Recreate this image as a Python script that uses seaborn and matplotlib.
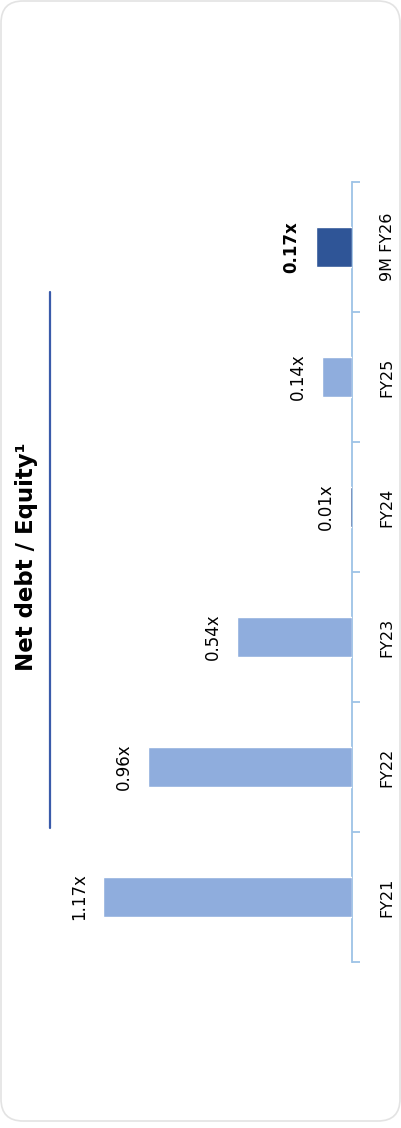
import seaborn as sns
import matplotlib.pyplot as plt
import pandas as pd
from matplotlib.lines import Line2D
from matplotlib.patches import FancyBboxPatch
from matplotlib.transforms import IdentityTransform

# chart data
periods = ["FY21", "FY22", "FY23", "FY24", "FY25", "9M FY26"]
ratios = [1.17, 0.96, 0.54, 0.01, 0.14, 0.17]
labels = ["1.17x", "0.96x", "0.54x", "0.01x", "0.14x", "0.17x"]

LIGHT = "#8FADDD"
DARK = "#2F5597"
AXIS = "#9DC3E6"

if __name__ == "__main__":
    df = pd.DataFrame({"Period": periods, "Ratio": ratios})
    bar_colors = [LIGHT] * (len(periods) - 1) + [DARK]
    bar_colors[3] = DARK  # the tiny FY24 sliver shows dark

    sns.set_style("white")
    plt.rcParams["font.family"] = ["DejaVu Sans"]

    W, H = 401, 1128
    fig = plt.figure(figsize=(W / 100, H / 100), dpi=100)

    # axes: value axis runs leftwards from x=352, categories stacked bottom->top
    left_px, right_px = 40, 352
    top_px, bot_px = 182, 962
    ax = fig.add_axes([left_px / W, (H - bot_px) / H,
                       (right_px - left_px) / W, (bot_px - top_px) / H])

    sns.barplot(data=df, x="Ratio", y="Period", hue="Period",
                palette=bar_colors, orient="h", width=0.31,
                legend=False, ax=ax, saturation=1, zorder=3)

    ax.set_xlim((right_px - left_px) / 212.8, 0)
    ax.set_ylim(-0.5, len(periods) - 0.5)

    for s in ["top", "left", "bottom"]:
        ax.spines[s].set_visible(False)
    ax.spines["right"].set_color(AXIS)
    ax.spines["right"].set_linewidth(1.3)

    ax.set_xticks([])
    ax.set_xlabel("")
    ax.set_ylabel("")
    ax.yaxis.tick_right()
    ax.set_yticks(range(len(periods)))
    ax.set_yticklabels(periods, rotation=90, va="center", fontsize=11.5,
                       color="black")
    ax.tick_params(axis="y", which="major", length=0, pad=20)
    ax.set_yticks([i - 0.5 for i in range(len(periods) + 1)], minor=True)
    ax.tick_params(axis="y", which="minor", length=6, width=1.3,
                   color=AXIS, direction="out", right=True, left=False)

    for i, (v, lab) in enumerate(zip(ratios, labels)):
        bold = i == len(periods) - 1
        ax.annotate(lab, (v, i), xytext=(-11, 0), textcoords="offset points",
                    rotation=90, ha="right", va="center", fontsize=12,
                    fontweight="bold" if bold else "normal", color="black")

    # title and accent line
    fig.text(27 / W, (H - 557) / H, "Net debt / Equity¹", rotation=90,
             ha="center", va="center", fontsize=16.5, fontweight="bold",
             color="black")
    fig.add_artist(Line2D([50 / W, 50 / W], [(H - 292) / H, (H - 828) / H],
                          color="#3A5BAA", linewidth=1.6))

    # card outline
    card = FancyBboxPatch((1, 7), W - 2, H - 8,
                          boxstyle="round,pad=0,rounding_size=22",
                          transform=IdentityTransform(), facecolor="none",
                          edgecolor="#E3E3E3", linewidth=1.2)
    fig.add_artist(card)

    fig.savefig("out.png", dpi=100)
